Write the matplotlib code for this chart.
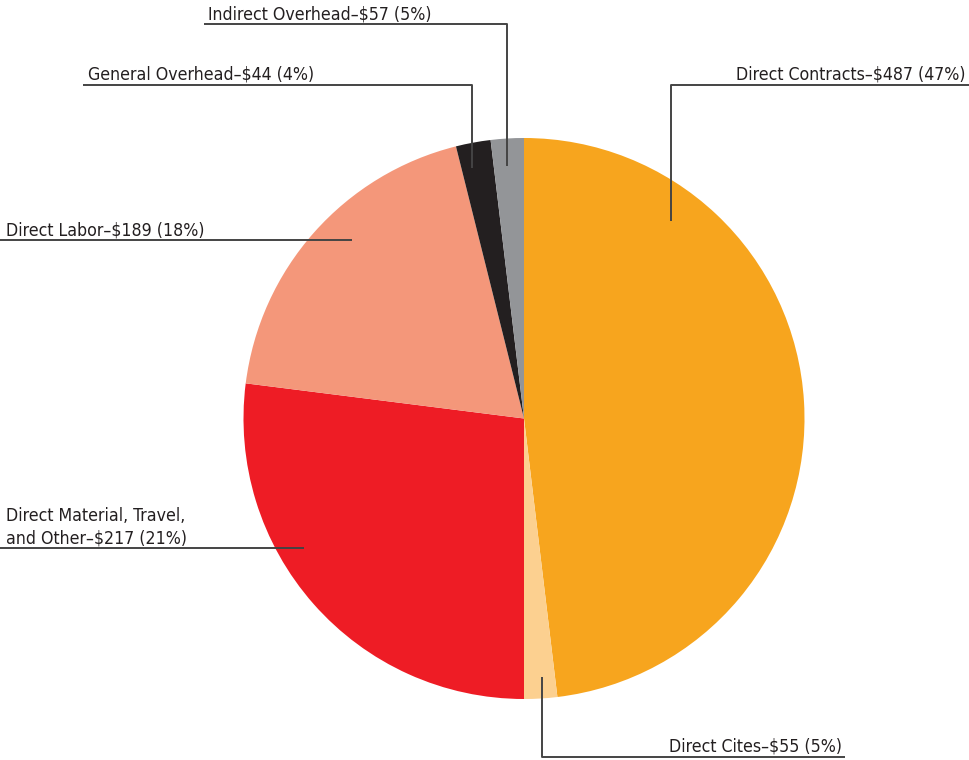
import matplotlib.pyplot as plt
from matplotlib import font_manager
from matplotlib.font_manager import FontProperties

# Slice shares as drawn in the picture (percent of the circle, clockwise from 12 o'clock)
categories = ["Direct Contracts", "Direct Cites", "Direct Material, Travel,\nand Other",
              "Direct Labor", "General Overhead", "Indirect Overhead"]
shares = [48.1, 1.9, 27.0, 19.1, 2.0, 1.9]
amounts = [487, 55, 217, 189, 44, 57]
label_pcts = [47, 5, 21, 18, 4, 5]
colors = ["#F7A51E", "#FCD090", "#EE1C25", "#F4977A", "#231F20", "#939598"]

W, H = 970, 760

# pick a narrow/condensed face if one is installed
fp = None
for f in font_manager.fontManager.ttflist:
    if "Narrow" in f.name or "Condensed" in f.name or "condensed" in str(f.stretch):
        if "Bold" not in f.fname and "Oblique" not in f.fname and "Italic" not in f.fname:
            fp = FontProperties(fname=f.fname)
            break
if fp is None:
    fp = FontProperties(family="Roboto")

fig = plt.figure(figsize=(W / 100, H / 100), dpi=100)
ax = fig.add_axes([0, 0, 1, 1])

cx, cy, r = 524, H - 418.5, 280.5
ax.pie(shares, colors=colors, startangle=90, counterclock=False,
       center=(cx, cy), radius=r, wedgeprops=dict(linewidth=0))
ax.set_xlim(0, W)
ax.set_ylim(0, H)
ax.set_aspect("equal")
ax.axis("off")


def label(i):
    return f"{categories[i]}–${amounts[i]} ({label_pcts[i]}%)"


# size text so the widest label is as wide as in the reference (~231 px)
probe = ax.text(0, 0, label(0), fontproperties=fp, fontsize=14)
fig.canvas.draw()
wpx = probe.get_window_extent().width
probe.remove()
fs = min(15.0, 14 * 231 / wpx)
fp.set_size(fs)


def leader(xs, ys):
    ax.plot(xs, [H - y for y in ys], color="#444444", lw=1.4, solid_capstyle="butt")


tc = "#231F20"
kw = dict(va="baseline", fontproperties=fp, color=tc)
# Direct Contracts
ax.text(966, H - 80, label(0), ha="right", **kw)
leader([970, 671, 671], [85, 85, 221])
# Direct Cites
ax.text(842, H - 752, label(1), ha="right", **kw)
leader([845, 542, 542], [757, 757, 677])
# Direct Material
ax.text(6, H - 543, label(2), ha="left", linespacing=1.3, **kw)
leader([0, 304], [548, 548])
# Direct Labor
ax.text(6, H - 236, label(3), ha="left", **kw)
leader([0, 352], [240, 240])
# General Overhead
ax.text(88, H - 80, label(4), ha="left", **kw)
leader([83, 472, 472], [85, 85, 168])
# Indirect Overhead
ax.text(208, H - 19, label(5), ha="left", **kw)
leader([204, 507, 507], [24, 24, 166])

fig.savefig("out.png", dpi=100)
